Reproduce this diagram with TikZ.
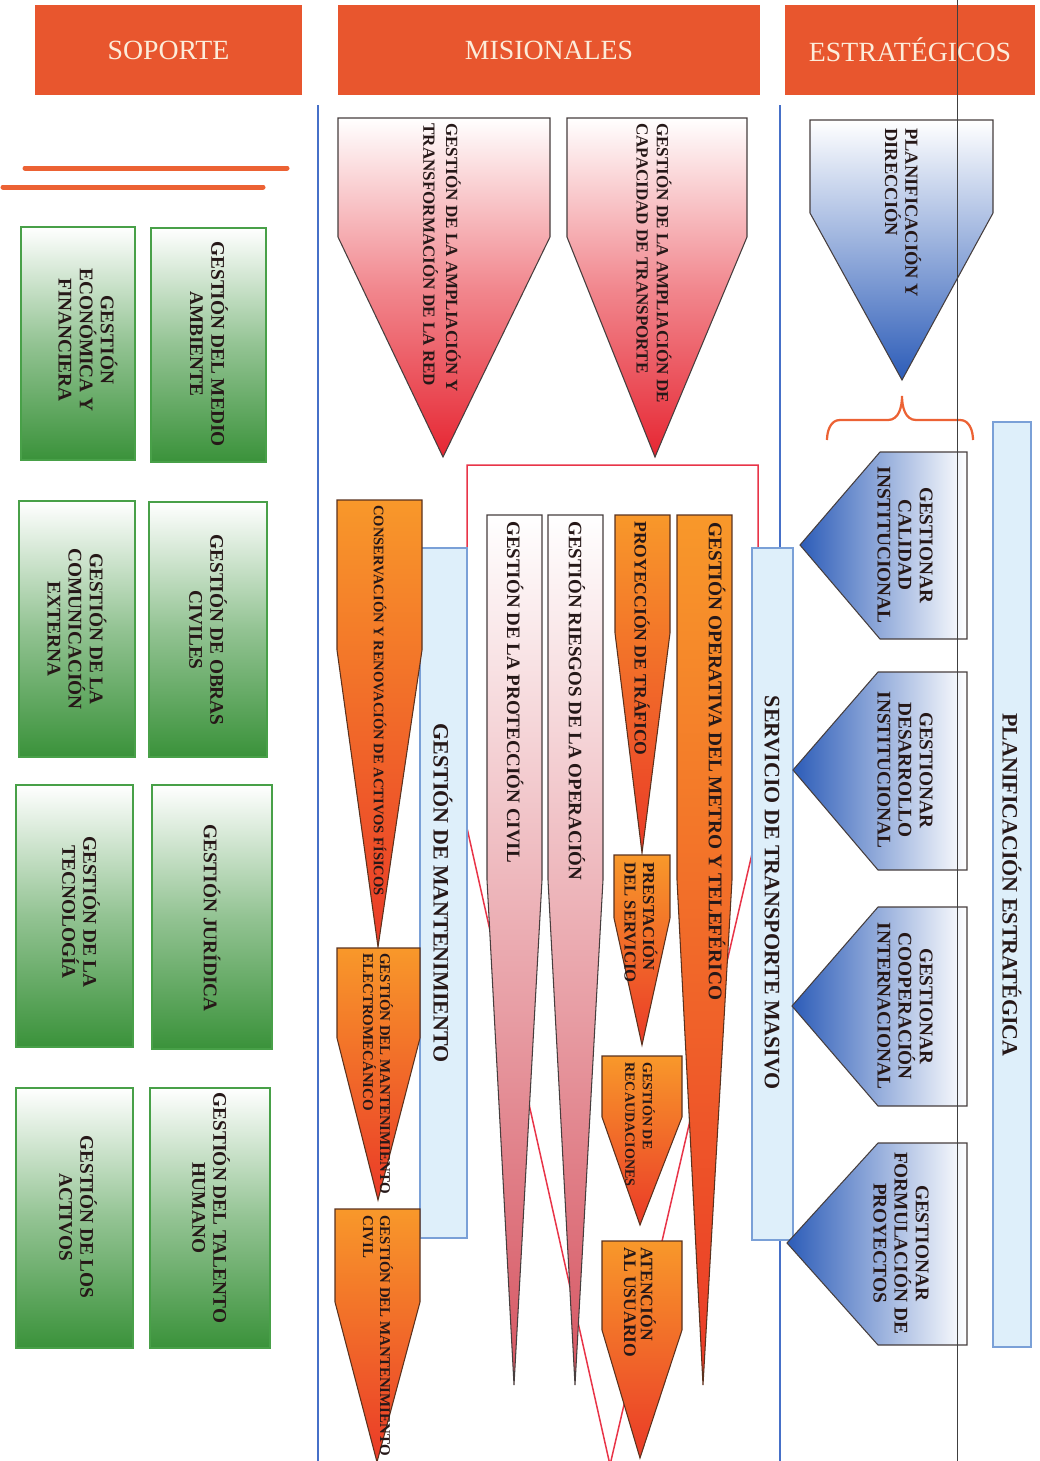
\documentclass[tikz,border=0pt]{standalone}
\usepackage{fontspec}
\setmainfont{Liberation Serif}
\definecolor{hdrred}{RGB}{232,86,46}
\definecolor{hdrtxt}{RGB}{252,236,218}
\definecolor{barorange}{RGB}{236,98,52}
\definecolor{txtcol}{RGB}{38,24,24}
\definecolor{gline}{RGB}{72,160,72}
\definecolor{gdark}{RGB}{58,146,58}
\definecolor{pline}{RGB}{70,62,62}
\definecolor{redD}{RGB}{230,38,50}
\definecolor{pinkD}{RGB}{214,84,96}
\definecolor{orgT}{RGB}{248,152,42}
\definecolor{orgB}{RGB}{234,58,40}
\definecolor{oline}{RGB}{90,50,30}
\definecolor{bluD}{RGB}{44,92,184}
\definecolor{lblue}{RGB}{222,239,250}
\definecolor{lbline}{RGB}{122,160,215}
\definecolor{sepblue}{RGB}{70,112,200}
\definecolor{framered}{RGB}{232,52,72}
\tikzset{
  hdr/.style={fill=hdrred, text=hdrtxt, font=\fontsize{15.8}{18}\selectfont,
    minimum height=18mm, inner sep=0pt},
  vt/.style 2 args={rotate=-90, text=txtcol, inner sep=0pt,
    font=\bfseries\fontsize{#1}{#2}\selectfont},
  obar/.style={barorange, line width=1mm, line cap=round},
  gshade/.style={draw=gline, line width=0.6pt, top color=white,
    bottom color=gdark, middle color=gdark!55},
  rshade/.style={draw=pline, line width=0.6pt, top color=white,
    bottom color=redD, middle color=redD!55},
  pshade/.style={draw=pline, line width=0.6pt, top color=white,
    bottom color=pinkD},
  oshade/.style={draw=oline, line width=0.6pt, top color=orgT,
    bottom color=orgB},
  bshade/.style={draw=pline, line width=0.6pt, top color=white,
    bottom color=bluD},
  blshade/.style={draw=pline, line width=0.6pt, left color=bluD,
    right color=white},
  lbox/.style={fill=lblue, draw=lbline, line width=0.6pt},
  sep/.style={sepblue, line width=0.35mm}
}
\begin{document}
\begin{tikzpicture}[x=0.2mm,y=-0.2mm]
\useasboundingbox (0,0) rectangle (1039,1461);

% headers
\node[hdr, minimum width=53.4mm] (soporte) at (168.5,50) {SOPORTE};
\node[hdr, minimum width=84.4mm] (misionales) at (549,50) {MISIONALES};
\node[hdr, minimum width=50mm] (estrategicos) at (910,50) {ESTRATÉGICOS};

\draw[obar] (25,168) -- (287,168);
\draw[obar] (3,187) -- (263,187);

\draw[sep] (318,105) -- (318,1461);
\draw[sep] (780,105) -- (780,1461);

% soporte
\shade[gshade] (21,227) rectangle (135,460);
\shade[gshade] (151,228) rectangle (266,462);
\shade[gshade] (19,501) rectangle (135,757);
\shade[gshade] (149,502) rectangle (267,757);
\shade[gshade] (16,785) rectangle (133,1047);
\shade[gshade] (152,785) rectangle (272,1049);
\shade[gshade] (16,1088) rectangle (133,1348);
\shade[gshade] (150,1088) rectangle (270,1348);
\node[vt={11}{12}, align=center] (ecofin) at (88,340) {GESTIÓN\\ECONÓMICA Y\\FINANCIERA};
\node[vt={11}{12}, align=center] (medio) at (209,344) {GESTIÓN DEL MEDIO\\AMBIENTE};
\node[vt={11}{12}, align=center] (comext) at (77,629) {GESTIÓN DE LA\\COMUNICACIÓN\\EXTERNA};
\node[vt={11}{12}, align=center] (obras) at (208,630) {GESTIÓN DE OBRAS\\CIVILES};
\node[vt={11}{12}, align=center] (tecno) at (81,912) {GESTIÓN DE LA\\TECNOLOGÍA};
\node[vt={11}{12}, align=center] (juridica) at (212,918) {GESTIÓN JURÍDICA};
\node[vt={11}{12}, align=center] (activos) at (78,1217) {GESTIÓN DE LOS\\ACTIVOS};
\node[vt={11}{12}, align=center] (talento) at (211,1208) {GESTIÓN DEL TALENTO\\HUMANO};

% misionales
\draw[framered, line width=0.3mm] (467,828) -- (467,465) -- (758,465) -- (758,828) -- (610,1465) -- cycle;
\draw[lbox] (420,548) rectangle (467,1238);
\draw[lbox] (752,548) rectangle (793,1240);
\node[vt={12.5}{14}] (mant) at (443,893) {GESTIÓN DE MANTENIMIENTO};
\node[vt={12.5}{14}] (servicio) at (772,893) {SERVICIO DE TRANSPORTE MASIVO};

\shade[rshade] (338,118) -- (550,118) -- (550,237) -- (443,457) -- (338,237) -- cycle;
\shade[rshade] (567,118) -- (747,118) -- (747,237) -- (655,457) -- (567,237) -- cycle;
\node[vt={9.7}{13}, anchor=west, align=left] (ampred) at (442,123) {GESTIÓN DE LA AMPLIACIÓN Y\\TRANSFORMACIÓN DE LA RED};
\node[vt={9.7}{11.5}, anchor=west, align=left] (ampcap) at (654,123) {GESTIÓN DE LA AMPLIACIÓN DE\\CAPACIDAD DE TRANSPORTE};

\shade[oshade] (337,500) -- (422,500) -- (422,650) -- (378,947) -- (337,650) -- cycle;
\shade[oshade] (337,948) -- (420,948) -- (420,1038) -- (378,1200) -- (337,1038) -- cycle;
\shade[oshade] (335,1209) -- (420,1209) -- (420,1302) -- (377,1462) -- (335,1302) -- cycle;
\node[vt={8.3}{9.5}, anchor=west] (activfis) at (380,505) {CONSERVACIÓN Y RENOVACIÓN DE ACTIVOS FÍSICOS};
\node[vt={8.5}{9.7}, anchor=west, align=left] (mantelec) at (378,953) {GESTIÓN DEL MANTENIMIENTO\\ELECTROMECÁNICO};
\node[vt={8.5}{9.7}, anchor=west, align=left] (mantcivil) at (378,1215) {GESTIÓN DEL MANTENIMIENTO\\CIVIL};

\shade[pshade] (487,515) -- (542,515) -- (542,880) -- (514,1385) -- (487,880) -- cycle;
\shade[pshade] (548,515) -- (603,515) -- (603,880) -- (575,1385) -- (548,880) -- cycle;
\node[vt={10.8}{12}, anchor=west] (proteccion) at (515,521) {GESTIÓN DE LA PROTECCIÓN CIVIL};
\node[vt={10.8}{12}, anchor=west] (riesgos) at (577,521) {GESTIÓN RIESGOS DE LA OPERACIÓN};

\shade[oshade] (615,515) -- (670,515) -- (670,633) -- (642,853) -- (615,633) -- cycle;
\shade[oshade] (614,855) -- (670,855) -- (670,918) -- (642,1045) -- (614,918) -- cycle;
\shade[oshade] (602,1056) -- (682,1056) -- (682,1117) -- (640,1225) -- (602,1117) -- cycle;
\shade[oshade] (602,1241) -- (682,1241) -- (682,1330) -- (640,1458) -- (602,1330) -- cycle;
\shade[oshade] (677,515) -- (732,515) -- (732,880) -- (703,1385) -- (677,880) -- cycle;
\node[vt={10}{11}, anchor=west] (trafico) at (642,521) {PROYECCIÓN DE TRÁFICO};
\node[vt={9.5}{10.5}, anchor=west, align=left] (prestacion) at (641,862) {PRESTACIÓN\\DEL SERVICIO};
\node[vt={8}{10}, anchor=west, align=left] (recaudo) at (640,1062) {GESTIÓN DE\\RECAUDACIONES};
\node[vt={10}{9.5}, anchor=west, align=left] (atencion) at (640,1247) {ATENCIÓN\\AL USUARIO};
\node[vt={11}{12}, anchor=west] (operativa) at (717,522) {GESTIÓN OPERATIVA DEL METRO Y TELEFÉRICO};

% estrategicos
\shade[bshade] (810,120) -- (993,120) -- (993,213) -- (902,380) -- (810,213) -- cycle;
\node[vt={10.5}{11.5}, anchor=west, align=left] (planif) at (903,128) {PLANIFICACIÓN Y\\DIRECCIÓN};
\draw[barorange, line width=0.45mm] (827,440) to[out=90,in=180] (840,420) -- (888,420)
  to[out=0,in=-90] (902,396) to[out=-90,in=180] (916,420) -- (960,420) to[out=0,in=90] (973,440);

\draw[lbox] (993,422) rectangle (1031,1347);
\node[vt={12.5}{14}] (planest) at (1012,885) {PLANIFICACIÓN ESTRATÉGICA};

\shade[blshade] (967,452) -- (880,452) -- (800,545) -- (880,639) -- (967,639) -- cycle;
\shade[blshade] (967,672) -- (878,672) -- (793,770) -- (878,870) -- (967,870) -- cycle;
\shade[blshade] (967,907) -- (878,907) -- (792,1006) -- (878,1106) -- (967,1106) -- cycle;
\shade[blshade] (967,1143) -- (878,1143) -- (787,1243) -- (878,1345) -- (967,1345) -- cycle;
\node[vt={11}{12}, align=center] (calidad) at (905,545) {GESTIONAR\\CALIDAD\\INSTITUCIONAL};
\node[vt={11}{12}, align=center] (desarrollo) at (905,770) {GESTIONAR\\DESARROLLO\\INSTITUCIONAL};
\node[vt={11}{12}, align=center] (cooperacion) at (905,1006) {GESTIONAR\\COOPERACIÓN\\INTERNACIONAL};
\node[vt={11}{12}, align=center] (proyectos) at (901,1243) {GESTIONAR\\FORMULACIÓN DE\\PROYECTOS};

\draw[black!75, line width=0.4pt] (957,0) -- (957,1461);
\end{tikzpicture}
\end{document}
